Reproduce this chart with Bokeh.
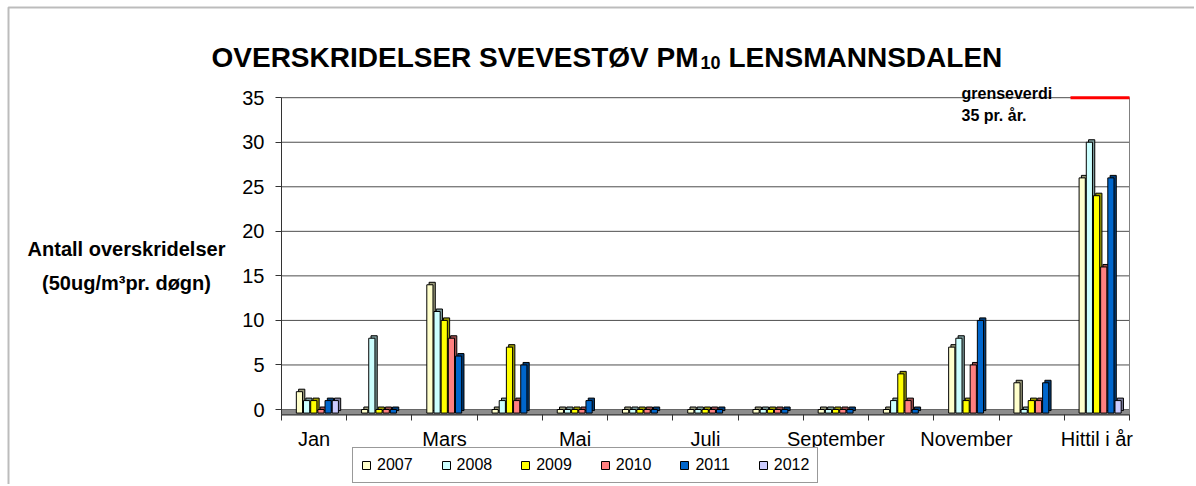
from bokeh.plotting import figure
from bokeh.models import (Range1d, FixedTicker, Legend, LegendItem, Label, LinearAxis,
                          BoxAnnotation)
from bokeh.embed import file_html
from bokeh.resources import INLINE

# ---------------- data ----------------
months = ["Jan", "Februar", "Mars", "April", "Mai", "Juni", "Juli", "August",
          "September", "Oktober", "November", "Desember", "Hittil i år"]
years = ["2007", "2008", "2009", "2010", "2011", "2012"]
nan = float("nan")
s2007 = [2, 0, 14, 0, 0, 0, 0, 0, 0, 0, 7, 3, 26]
s2008 = [1, 8, 11, 1, 0, 0, 0, 0, 0, 1, 8, 0, 30]
s2009 = [1, 0, 10, 7, 0, 0, 0, 0, 0, 4, 1, 1, 24]
s2010 = [0, 0, 8, 1, 0, 0, 0, 0, 0, 1, 5, 1, 16]
s2011 = [1, 0, 6, 5, 1, 0, 0, 0, 0, 0, 10, 3, 26]
s2012 = [1, nan, nan, nan, nan, nan, nan, nan, nan, nan, nan, nan, 1]
series = [s2007, s2008, s2009, s2010, s2011, s2012]
y_ticks = [0, 5, 10, 15, 20, 25, 30, 35]
grenseverdi = 35

# ---------------- style ----------------
colors = ["#FFFFCC", "#CCFFFF", "#FFFF00", "#FF8080", "#0066CC", "#CCCCFF"]
FONT = "Liberation Sans"
W, H = 1194, 484
# chart region in canvas pixels: category span and value scale
CL, CR = 281, 1129          # x of category -0.5 and 12.5
Y35, Y00 = 97.2, 409.0      # y of value 35 and value 0
CAT0, CAT1 = -0.5, 12.5
FLOOR = -0.6


def px_x(px):
    return CAT0 + (px - CL) * (CAT1 - CAT0) / (CR - CL)


def px_y(py):
    return (Y00 - py) * 35.0 / (Y00 - Y35)


def darker(hexcol, f=0.6):
    r, g, b = (int(hexcol[i:i + 2], 16) for i in (1, 3, 5))
    return "#%02x%02x%02x" % (int(r * f), int(g * f), int(b * f))


p = figure(width=W, height=H,
           x_range=Range1d(px_x(0), px_x(W)), y_range=Range1d(px_y(H), px_y(0)),
           output_backend="svg", toolbar_location=None, title=None,
           x_axis_location=None, y_axis_location=None,
           min_border=0)
p.outline_line_color = None
p.background_fill_color = "white"
p.border_fill_color = "white"
for g in p.grid:
    g.visible = False

# horizontal grid lines limited to the chart region
nt = len(y_ticks)
p.segment(x0=[CAT0] * nt, x1=[CAT1] * nt, y0=y_ticks, y1=y_ticks,
          line_color="#4d4d4d", line_width=1)

# floor, front edge and right wall
p.quad(left=[CAT0], right=[CAT1], bottom=[FLOOR], top=[0],
       fill_color="#8c8c8c", line_color="#666666")
p.segment(x0=[CAT0], x1=[CAT1], y0=[FLOOR], y1=[FLOOR], line_color="#333333", line_width=1)
p.segment(x0=[CAT1], x1=[CAT1], y0=[FLOOR], y1=[y_ticks[-1]], line_color="#808080", line_width=1)

# bars (pseudo 3D)
n = len(months)
bw, pitch, dxx, dyy, base, shift = 0.095, 0.11, 0.035, 0.28, -0.4, 0.05
items = []
for i, (yr, vals, col) in enumerate(zip(years, series, colors)):
    xs = [k + shift + (i - 2.5) * pitch for k in range(n)]
    p.vbar(x=[x + dxx for x in xs], top=[v + dyy for v in vals], bottom=base + dyy,
           width=bw, fill_color=darker(col), line_color="black", line_width=1)
    r = p.vbar(x=xs, top=vals, bottom=base, width=bw, fill_color=col,
               line_color="black", line_width=1)
    items.append(LegendItem(label=yr, renderers=[r]))

# limit value marker
p.segment(x0=[px_x(1070)], x1=[CAT1], y0=[grenseverdi], y1=[grenseverdi],
          line_color="#FF0000", line_width=3)

# axes (placed at the chart region edges)
centers = list(range(n))
bounds = [k - 0.5 for k in range(n + 1)]
xa = LinearAxis(fixed_location=FLOOR, bounds=(CAT0, CAT1))
xa.ticker = FixedTicker(ticks=centers, minor_ticks=bounds)
xa.major_label_overrides = {k: (months[k] if k % 2 == 0 else "") for k in centers}
xa.major_tick_line_color = None
xa.minor_tick_line_color = "#333333"
xa.minor_tick_out = 6
xa.minor_tick_in = 0
xa.axis_line_color = None
xa.major_label_text_font = FONT
xa.major_label_text_font_size = "20px"
xa.major_label_text_color = "black"
xa.major_label_standoff = 7
p.add_layout(xa, "below")

ya = LinearAxis(fixed_location=CAT0, bounds=(FLOOR, y_ticks[-1]))
ya.ticker = FixedTicker(ticks=y_ticks)
ya.minor_tick_line_color = None
ya.major_tick_out = 6
ya.major_tick_in = 0
ya.major_tick_line_color = "#333333"
ya.axis_line_color = "#333333"
ya.major_label_text_font = FONT
ya.major_label_text_font_size = "20px"
ya.major_label_text_color = "black"
ya.major_label_standoff = 11
p.add_layout(ya, "left")

# outer chart border (only top and left edges are inside the picture)
p.add_layout(BoxAnnotation(left=px_x(8), right=px_x(W + 50), top=px_y(7), bottom=px_y(H + 50),
                           fill_color=None, line_color="#222222", line_width=2))


def add_text(txt, px, py, size, bold=True, align="left"):
    p.add_layout(Label(x=px_x(px), y=px_y(py), text=txt, text_font=FONT,
                       text_font_size=size, text_font_style="bold" if bold else "normal",
                       text_align=align, text_baseline="alphabetic", text_color="black"))


add_text("OVERSKRIDELSER SVEVESTØV PM", 211, 57, "28px")
add_text("10", 700, 62, "18px")
add_text("LENSMANNSDALEN", 728, 57, "28px")
add_text("Antall overskridelser", 126, 248, "20px", align="center")
add_text("(50ug/m³pr. døgn)", 126, 282, "20px", align="center")
add_text("grenseverdi", 961, 93, "16px")
add_text("35 pr. år.", 961, 115, "16px")

legend = Legend(items=items, orientation="horizontal", location=(352, 1),
                label_text_font=FONT, label_text_font_size="16px",
                label_text_color="black", glyph_width=10, glyph_height=10,
                label_standoff=6, spacing=28, padding=8, label_height=18,
                border_line_color="#333333", border_line_width=1,
                background_fill_color="white", background_fill_alpha=1)
p.add_layout(legend, "center")

open("out.html", "w").write(file_html(p, INLINE))
